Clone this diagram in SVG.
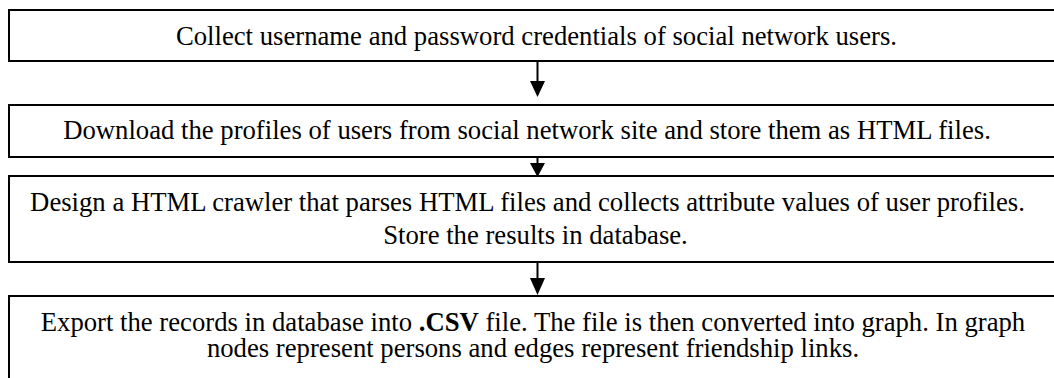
<svg xmlns="http://www.w3.org/2000/svg" width="1054" height="378" viewBox="0 0 1054 378">
  <style>
    .box { fill: #ffffff; stroke: #000000; stroke-width: 2; }
    .lbl { font-family: "Liberation Serif", "Times New Roman", serif; font-size: 26.7px; fill: #000000; text-anchor: middle; }
    .conn { stroke: #000000; stroke-width: 2; fill: none; }
    .head { fill: #000000; stroke: none; }
  </style>
  <rect x="0" y="0" width="1054" height="378" fill="#ffffff"/>
  <g id="step1">
    <rect class="box" x="9" y="10" width="1060" height="51"/>
    <text class="lbl" x="536.5" y="45">Collect username and password credentials of social network users.</text>
  </g>
  <g id="step2">
    <rect class="box" x="9" y="105" width="1060" height="52"/>
    <text class="lbl" x="527" y="139">Download the profiles of users from social network site and store them as HTML files.</text>
  </g>
  <g id="step3">
    <rect class="box" x="9" y="176" width="1060" height="86"/>
    <text class="lbl" x="527.5" y="211">Design a HTML crawler that parses HTML files and collects attribute values of user profiles.</text>
    <text class="lbl" x="535.5" y="244">Store the results in database.</text>
  </g>
  <g id="step4">
    <rect class="box" x="9" y="296" width="1060" height="100"/>
    <text class="lbl" x="533" y="331">Export the records in database into <tspan font-weight="bold">.CSV</tspan> file. The file is then converted into graph. In graph</text>
    <text class="lbl" x="533" y="357">nodes represent persons and edges represent friendship links.</text>
  </g>
  <g id="connectors">
    <line class="conn" x1="537.5" y1="61" x2="537.5" y2="83"/>
    <polygon class="head" points="530,81 545,81 537.5,97"/>
    <line class="conn" x1="537.5" y1="157" x2="537.5" y2="165"/>
    <polygon class="head" points="530,163 545,163 537.5,177"/>
    <line class="conn" x1="537.5" y1="262" x2="537.5" y2="280"/>
    <polygon class="head" points="530,278 545,278 537.5,295"/>
  </g>
</svg>
